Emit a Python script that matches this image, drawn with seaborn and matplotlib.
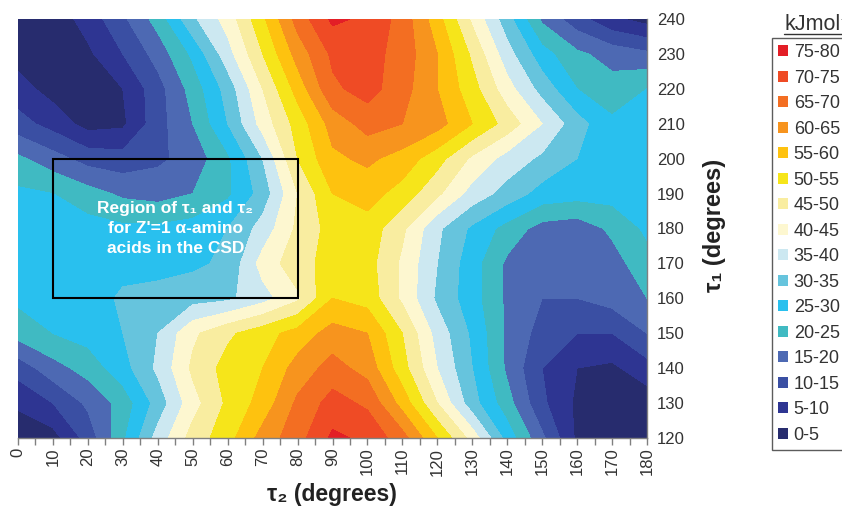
import numpy as np
import seaborn as sns
import matplotlib
matplotlib.use('Agg')
import matplotlib.pyplot as plt
from matplotlib.patches import Patch, Rectangle
from matplotlib.lines import Line2D

sns.set_style("ticks")
plt.rcParams['font.family'] = ['Liberation Sans', 'DejaVu Sans']

# grid of the torsion scan (degrees)
tau2 = [0, 10, 20, 30, 40, 50, 60, 70, 80, 90, 100, 110, 120, 130, 140, 150, 160, 170, 180]
tau1 = [120, 130, 140, 150, 160, 170, 180, 190, 200, 210, 220, 230, 240]

# energy (kJ/mol), one row per tau1 value
e120 = [1, 3, 12, 24, 37, 47, 53, 62, 68, 76, 74, 67, 55, 43, 28, 16, 4, 2, 2]
e130 = [6, 10, 16, 22, 32, 43, 51, 57, 66, 72, 69, 58, 45, 32, 22, 11, 4, 2, 2]
e140 = [12, 18, 22, 28, 36, 46, 52, 55, 62, 67, 63, 52, 40, 30, 19, 10, 5, 4, 8]
e150 = [22, 25, 27, 30, 35, 44, 49, 53, 57, 62, 60, 50, 38, 29, 19, 13, 10, 10, 15]
e160 = [26, 26, 27, 31, 32, 33, 34, 38, 44, 55, 53, 44, 34, 27, 19, 15, 15, 17, 20]
e170 = [27, 27, 27, 28, 28, 29, 31, 42, 48, 52, 52, 44, 35, 27, 19, 16, 16, 18, 23]
e180 = [28, 28, 27, 26, 26, 27, 30, 37, 46, 52, 53, 46, 36, 29, 23, 18, 17, 21, 26]
e190 = [26, 25, 22, 19, 18, 20, 24, 32, 45, 55, 57, 53, 46, 38, 33, 28, 27, 27, 27]
e200 = [21, 17, 13, 12, 14, 17, 24, 35, 50, 59, 61, 58, 52, 44, 38, 34, 30, 27, 27]
e210 = [12, 8, 3, 4, 13, 20, 30, 42, 52, 62, 67, 65, 62, 55, 48, 40, 32, 26, 27]
e220 = [7, 3, 2, 5, 13, 22, 32, 45, 57, 69, 72, 67, 60, 52, 42, 33, 25, 22, 25]
e230 = [3, 2, 4, 10, 17, 26, 38, 50, 62, 71, 72, 68, 60, 49, 37, 27, 21, 18, 16]
e240 = [2, 2, 7, 14, 22, 34, 42, 54, 67, 76, 74, 68, 57, 44, 32, 19, 12, 6, 3]

levels = [0, 5, 10, 15, 20, 25, 30, 35, 40, 45, 50, 55, 60, 65, 70, 75, 80]
band_labels = ['0-5', '5-10', '10-15', '15-20', '20-25', '25-30', '30-35', '35-40',
               '40-45', '45-50', '50-55', '55-60', '60-65', '65-70', '70-75', '75-80']
band_colors = ['#272c6e', '#2e3592', '#3a4fa3', '#4d69b3', '#40bac2', '#29c0ee',
               '#66c4dd', '#cce8f1', '#fdf7d0', '#f9eda0', '#f6e51a', '#fec20f',
               '#f7941e', '#f36e22', '#ef4b25', '#e31e26']

# box marking the CSD region
box_tau2 = (10, 80)
box_tau1 = (160, 200)

energy = np.array([e120, e130, e140, e150, e160, e170, e180,
                   e190, e200, e210, e220, e230, e240])
palette = sns.color_palette(band_colors)

fig = plt.figure(figsize=(8.42, 5.12), dpi=100)
ax = fig.add_axes([18/842, 74/512, 629/842, 419/512])
ax.contourf(tau2, tau1, energy, levels=levels, colors=palette)
ax.set_xlim(0, 180)
ax.set_ylim(120, 240)

ax.set_xticks(range(0, 181, 10))
ax.set_xticks(range(5, 180, 10), minor=True)
ax.set_yticks(range(120, 241, 10))
ax.set_yticks(range(125, 240, 10), minor=True)
ax.yaxis.tick_right()
ax.tick_params(axis='both', which='both', direction='out', length=5, width=1,
               color='#808080', labelsize=12, labelcolor='#333333')
ax.tick_params(axis='x', labelrotation=90, pad=2)
ax.tick_params(axis='y', left=False, right=True, pad=2)
sns.despine(ax=ax, left=True, top=True, right=False, bottom=False)
for s in ['right', 'bottom']:
    ax.spines[s].set_color('#808080')
    ax.spines[s].set_linewidth(1)

ax.add_patch(Rectangle((box_tau2[0], box_tau1[0]), box_tau2[1] - box_tau2[0],
                       box_tau1[1] - box_tau1[0], fill=False, ec='black', lw=1.5, zorder=3))
ax.text(sum(box_tau2) / 2, sum(box_tau1) / 2,
        "Region of τ₁ and τ₂\nfor Z'=1 α-amino\nacids in the CSD",
        color='white', fontweight='bold', fontsize=12.5, ha='center', va='center',
        linespacing=1.45, zorder=4)

fig.text(332/842, 1 - 494/512, "τ₂ (degrees)", fontsize=16.5, fontweight='bold',
         ha='center', va='center', color='#222222')
fig.text(715/842, 1 - 225/512, "τ₁ (degrees)", fontsize=17, fontweight='bold',
         ha='center', va='center', rotation=90, color='#222222')

handles = [Patch(facecolor=c, edgecolor='none', label=l)
           for c, l in zip(band_colors[::-1], band_labels[::-1])]
leg = fig.legend(handles=handles, loc='upper left', bbox_to_anchor=(772/842, 1 - 38/512),
                 frameon=True, fancybox=False, edgecolor='#333333', fontsize=13,
                 handlelength=0.55, handleheight=0.55, handletextpad=0.3,
                 labelspacing=0.47, borderpad=0.35, borderaxespad=0)
leg.get_frame().set_linewidth(1)
for t in leg.get_texts():
    t.set_color('#333333')

fig.text(784/842, 1 - 24/512, "kJmol⁻¹", fontsize=15.5, ha='left', va='center', color='#333333')
fig.add_artist(Line2D([784/842, 1.0], [1 - 34/512] * 2, transform=fig.transFigure,
                      color='#333333', lw=1))

fig.savefig('out.png', dpi=100)
